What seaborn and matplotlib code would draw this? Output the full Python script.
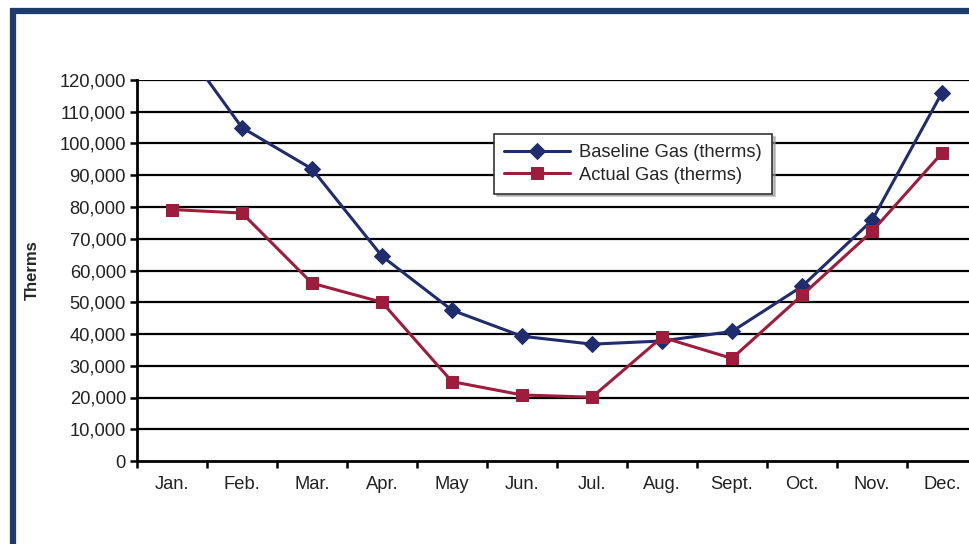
import numpy as np
import pandas as pd
import matplotlib.pyplot as plt
import matplotlib.patches as patches
import seaborn as sns

months = ["Jan.", "Feb.", "Mar.", "Apr.", "May", "Jun.", "Jul.", "Aug.", "Sept.", "Oct.", "Nov.", "Dec."]
baseline = [135500, 105000, 92000, 64500, 47500, 39300, 36800, 37800, 40800, 55000, 75800, 116000]
actual = [79200, 78100, 56000, 50000, 25000, 20800, 20100, 39000, 32300, 52200, 72300, 97000]
y_ticks = list(range(0, 120001, 10000))

df = pd.DataFrame({"x": np.arange(len(months)), "baseline": baseline, "actual": actual})

sns.set_theme(style="white")
plt.rcParams["font.family"] = ["Liberation Sans", "DejaVu Sans"]

navy = "#1f2c6e"
crimson = "#a01c3c"

fig = plt.figure(figsize=(9.7, 5.44), dpi=100)
ax = fig.add_axes([137 / 970, 1 - 461 / 544, 840 / 970, 381 / 544])

# grid lines
for v in y_ticks[1:]:
    ax.axhline(v, color="black", lw=1.6, zorder=1)

sns.lineplot(data=df, x="x", y="baseline", ax=ax, color=navy, lw=2.2,
             marker="D", markersize=8, markeredgecolor=navy,
             label="Baseline Gas (therms)", zorder=3)
sns.lineplot(data=df, x="x", y="actual", ax=ax, color=crimson, lw=2.2,
             marker="s", markersize=9, markeredgecolor=crimson,
             label="Actual Gas (therms)", zorder=3)

ax.set_xlim(-0.5, 11.5)
ax.set_ylim(0, 120000)
ax.set_yticks(y_ticks)
ax.set_yticklabels([f"{v:,}" for v in y_ticks], fontsize=13.2, color="#222222")
ax.set_xticks(np.arange(len(months)))
ax.set_xticklabels(months, fontsize=13.2, color="#222222")
ax.set_xticks(np.arange(-0.5, 12, 1), minor=True)
ax.tick_params(axis="x", which="major", length=0, pad=11)
ax.tick_params(axis="x", which="minor", length=5, width=1.8, color="black", direction="out", bottom=True)
ax.tick_params(axis="y", length=5, width=1.8, color="black", direction="out", left=True, pad=3)
ax.set_xlabel("")
ax.set_ylabel("Therms", fontsize=12, fontweight="bold", labelpad=14)

for s in ["top", "right"]:
    ax.spines[s].set_visible(False)
for s in ["left", "bottom"]:
    ax.spines[s].set_color("black")
    ax.spines[s].set_linewidth(2)

leg = ax.legend(loc="upper left", bbox_to_anchor=((494 - 137) / 840, 1 - (134 - 80) / 381),
                fontsize=13.2, frameon=True, fancybox=False, shadow={"color": "#999999", "alpha": 0.6},
                handlelength=3.6, handletextpad=0.5, borderpad=0.55, labelspacing=0.3,
                borderaxespad=0)
leg.get_frame().set_edgecolor("#333333")
leg.get_frame().set_linewidth(1.2)
leg.get_frame().set_alpha(1)

# dark blue frame around the figure
frame = patches.Rectangle((13 / 970, -0.2), 1.2, 1.2 - 11 / 544, transform=fig.transFigure,
                          fill=False, edgecolor="#1b3c6a", lw=4.5, clip_on=False)
fig.patches.append(frame)

fig.savefig("out.png", dpi=100)
